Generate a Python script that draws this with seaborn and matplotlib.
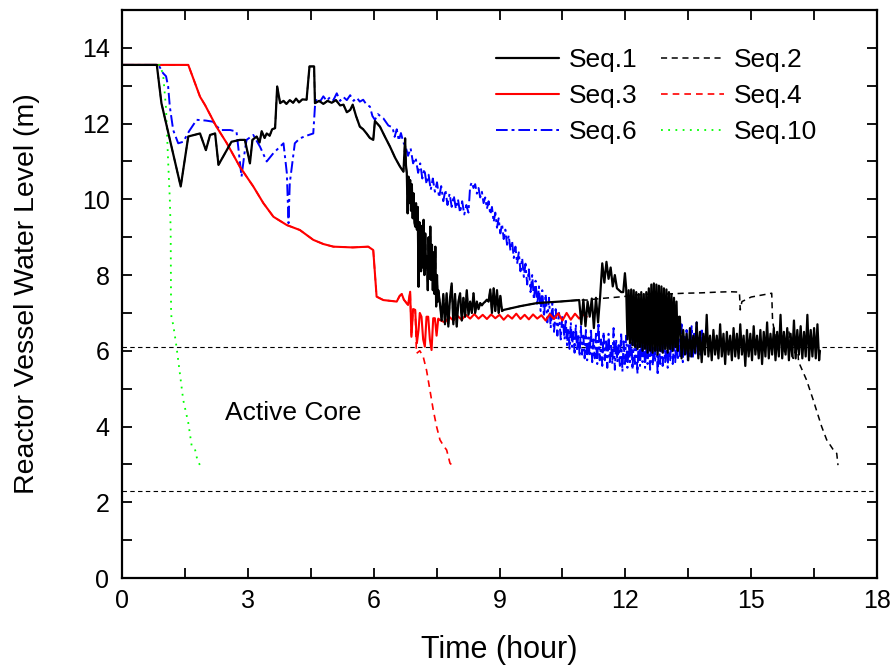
import numpy as np
import pandas as pd
import matplotlib
matplotlib.use("Agg")
import matplotlib.pyplot as plt
import seaborn as sns

# ---------------- data ----------------
# Seq.10 (green dotted)
s10_t = [0, 0.90, 0.98, 1.05, 1.10, 1.14, 1.16, 1.17, 1.18, 1.22, 1.30, 1.38, 1.46, 1.52, 1.58, 1.66, 1.74, 1.80, 1.86]
s10_y = [13.55, 13.55, 13.3, 12.4, 11.0, 10.0, 9.2, 7.1, 6.85, 6.7, 6.1, 5.4, 4.7, 4.4, 4.1, 3.5, 3.4, 3.1, 2.98]

# Seq.1 (black solid), part A: 0 - 6.77 h
s1a_t = [0, 0.83, 0.94, 1.40, 1.58, 1.86, 2.00, 2.10, 2.22, 2.30, 2.50, 2.61, 2.81, 2.93, 3.05, 3.11,
         3.21, 3.28, 3.33, 3.40, 3.45, 3.52, 3.58, 3.65, 3.70, 3.77, 3.85, 3.92, 4.00, 4.08, 4.15, 4.22,
         4.30, 4.40, 4.47, 4.58, 4.60, 4.70, 4.80, 4.90, 5.00, 5.10, 5.20, 5.28, 5.36, 5.44, 5.50, 5.58,
         5.67, 5.75, 5.83, 5.91, 5.99, 6.03, 6.15, 6.27, 6.39, 6.51, 6.63, 6.71, 6.75, 6.77]
s1a_y = [13.55, 13.55, 12.54, 10.34, 11.66, 11.74, 11.30, 11.70, 11.74, 10.91, 11.30, 11.52, 11.57, 11.57, 10.95, 11.57,
         11.66, 11.50, 11.80, 11.62, 11.74, 11.68, 11.85, 11.88, 12.98, 12.54, 12.60, 12.52, 12.62, 12.55, 12.66, 12.56,
         12.64, 12.63, 13.51, 13.51, 12.54, 12.60, 12.52, 12.60, 12.55, 12.62, 12.48, 12.50, 12.30, 12.36, 12.50, 12.20,
         11.92, 11.85, 11.74, 11.62, 11.57, 12.07, 11.92, 11.65, 11.39, 11.10, 10.86, 10.73, 11.61, 10.90]

# Seq.1 part B: dense drop 6.79 - 7.53 h
s1b_t = [6.79, 6.81, 6.83, 6.85, 6.87, 6.89, 6.91, 6.93, 6.95, 6.97,
         6.99, 7.01, 7.03, 7.05, 7.07, 7.09, 7.11, 7.13, 7.15, 7.17,
         7.19, 7.21, 7.23, 7.25, 7.27, 7.29, 7.31, 7.33, 7.35, 7.37,
         7.39, 7.41, 7.43, 7.45, 7.47, 7.49, 7.51, 7.53]
s1b_y = [10.69, 9.63, 10.60, 9.90, 10.51, 9.70, 10.40, 9.50, 10.16, 9.40,
         9.28, 9.90, 9.20, 9.80, 7.69, 9.40, 8.93, 8.10, 9.30, 8.20,
         9.46, 8.00, 9.10, 8.20, 8.49, 7.60, 9.00, 7.90, 9.28, 7.87,
         8.80, 7.60, 8.60, 7.50, 8.75, 7.17, 8.00, 7.30]

# Seq.1 part C: 7.54 - 12.0 h
s1c_t = [7.54, 7.58, 7.62, 7.66, 7.70, 7.74, 7.78, 7.82, 7.86, 7.90, 7.94, 7.98, 8.02, 8.06, 8.10, 8.14,
         8.18, 8.22, 8.26, 8.30, 8.34, 8.38, 8.42, 8.46, 8.50, 8.54, 8.58, 8.62, 8.66, 8.70, 8.74, 8.78,
         8.82, 8.86, 8.90, 8.94, 8.98, 9.02, 9.06, 9.10, 9.50, 9.89, 10.44, 10.90, 10.95, 11.00, 11.05,
         11.10, 11.15, 11.20, 11.25, 11.30, 11.35, 11.40, 11.45, 11.50, 11.55, 11.60, 11.65, 11.70, 11.75,
         11.80, 11.85, 11.90, 11.95, 11.99]
s1c_y = [7.60, 7.26, 6.80, 7.50, 6.70, 7.52, 6.64, 7.40, 7.78, 6.70, 7.50, 6.64, 7.30, 7.52, 6.80, 7.40,
         6.90, 7.60, 6.95, 7.30, 7.00, 7.52, 7.00, 7.30, 7.10, 7.26, 7.20, 7.26, 7.30, 7.35, 7.30, 7.62,
         7.00, 7.65, 7.05, 7.60, 7.00, 7.45, 7.05, 7.08, 7.18, 7.26, 7.30, 7.34, 6.70, 7.35, 6.65,
         7.30, 6.90, 7.38, 6.60, 7.40, 6.75, 7.45, 8.31, 7.80, 8.35, 7.90, 8.20, 7.70, 8.00,
         7.65, 7.60, 7.55, 7.55, 8.05]

# Seq.1 part D: dense oscillation block 12.0 - 13.3 h
s1d_t = [12.02, 12.05, 12.08, 12.11, 12.14, 12.17, 12.20, 12.23, 12.26, 12.29, 12.32, 12.35, 12.38, 12.41,
         12.44, 12.47, 12.50, 12.53, 12.56, 12.59, 12.62, 12.65, 12.68, 12.71, 12.74, 12.77, 12.80, 12.83,
         12.86, 12.89, 12.92, 12.95, 12.98, 13.01, 13.04, 13.07, 13.10, 13.13, 13.16, 13.19, 13.22, 13.25, 13.28]
s1d_y = [7.65, 6.30, 7.60, 6.20, 7.62, 6.15, 7.60, 6.10, 7.55, 6.05, 7.50, 6.10, 7.55, 6.00,
         7.50, 6.05, 7.55, 5.95, 7.65, 6.00, 7.75, 5.95, 7.78, 6.00, 7.75, 5.90, 7.72, 6.00,
         7.70, 5.95, 7.65, 6.05, 7.62, 5.95, 7.55, 6.05, 7.50, 6.00, 7.40, 6.10, 7.30, 6.00, 6.90]

# Seq.1 part E: oscillation 13.3 - 16.64 h
s1e_t = [13.30, 13.34, 13.38, 13.42, 13.46, 13.50, 13.54, 13.58, 13.62, 13.66,
         13.70, 13.74, 13.78, 13.82, 13.86, 13.90, 13.94, 13.98, 14.02, 14.06,
         14.10, 14.14, 14.18, 14.22, 14.26, 14.30, 14.34, 14.38, 14.42, 14.46,
         14.50, 14.54, 14.58, 14.62, 14.66, 14.70, 14.74, 14.78, 14.82, 14.86,
         14.90, 14.94, 14.98, 15.02, 15.06, 15.10, 15.14, 15.18, 15.22, 15.26,
         15.30, 15.34, 15.38, 15.42, 15.46, 15.50, 15.54, 15.58, 15.62, 15.66,
         15.70, 15.74, 15.78, 15.82, 15.86, 15.90, 15.94, 15.98, 16.02, 16.06,
         16.10, 16.14, 16.18, 16.22, 16.26, 16.30, 16.34, 16.38, 16.42, 16.46,
         16.50, 16.54, 16.58, 16.62, 16.64]
s1e_y = [6.90, 5.80, 6.55, 5.90, 6.45, 5.75, 6.60, 5.85, 6.40, 5.95,
         6.75, 5.80, 6.50, 5.70, 6.45, 5.90, 6.95, 5.85, 6.40, 5.75,
         6.55, 5.90, 6.40, 5.80, 6.70, 5.85, 6.45, 5.65, 6.50, 5.90,
         6.40, 5.75, 6.60, 5.85, 6.45, 5.80, 6.70, 5.90, 6.40, 5.60,
         6.55, 5.85, 6.45, 5.75, 6.65, 5.90, 6.40, 5.80, 6.55, 5.65,
         6.50, 5.85, 6.75, 5.80, 6.45, 5.90, 6.60, 5.75, 6.50, 5.85,
         6.95, 5.80, 6.50, 5.90, 6.60, 5.75, 6.45, 5.85, 6.80, 5.80,
         6.55, 5.90, 6.65, 5.80, 6.50, 5.85, 6.95, 5.75, 6.55, 5.85,
         6.60, 5.80, 6.70, 5.75, 6.00]

# Seq.2 (black dashed): shares Seq.1 up to 10.9 h, then its own tail
s2_tail_t = [11.08, 11.40, 11.95, 12.20, 12.60, 13.00, 13.40, 13.80, 14.20, 14.50, 14.72, 14.74, 14.78,
             15.00, 15.30, 15.49, 15.51, 15.60, 15.70, 15.80, 15.90, 16.00, 16.10, 16.13, 16.32, 16.48,
             16.68, 16.80, 16.95, 17.04, 17.07]
s2_tail_y = [7.34, 7.38, 7.43, 7.47, 7.50, 7.50, 7.52, 7.53, 7.55, 7.56, 7.55, 7.08, 7.30,
             7.42, 7.48, 7.52, 6.80, 6.20, 6.60, 5.90, 6.50, 5.80, 6.20, 5.71, 5.23, 4.70,
             4.00, 3.65, 3.40, 3.29, 2.98]

# Seq.3 (red solid)
s3_t = [0, 1.58, 1.86, 1.98, 2.25, 2.50, 2.81, 3.13, 3.37, 3.61, 3.93, 4.24, 4.56, 4.80, 5.04, 5.50, 5.87,
        5.99, 6.07, 6.23, 6.55, 6.62, 6.67, 6.72, 6.82, 6.87, 6.90, 6.94, 6.99, 7.03, 7.07, 7.10, 7.14,
        7.18, 7.22, 7.26, 7.30, 7.34, 7.38, 7.42, 7.46, 7.50, 7.54, 7.58, 7.70, 7.80, 7.90, 8.00, 8.10,
        8.20, 8.30, 8.40, 8.50, 8.60, 8.70, 8.80, 8.90, 9.00, 9.10, 9.20, 9.30, 9.40, 9.50, 9.60, 9.70,
        9.80, 9.90, 10.00, 10.10, 10.20, 10.30, 10.40, 10.50, 10.60, 10.70, 10.80, 10.90, 11.00, 11.08]
s3_y = [13.55, 13.55, 12.71, 12.49, 11.92, 11.48, 10.86, 10.34, 9.90, 9.54, 9.32, 9.19, 8.93, 8.82, 8.75, 8.73, 8.75,
        8.66, 7.43, 7.34, 7.30, 7.45, 7.50, 7.35, 7.21, 7.56, 6.37, 7.10, 7.08, 6.20, 6.55, 7.00, 6.90,
        6.30, 6.11, 6.90, 6.90, 6.30, 6.02, 6.86, 6.86, 6.40, 6.85, 6.81, 6.75, 6.90, 6.80, 6.92, 6.82,
        6.95, 6.85, 6.97, 6.85, 6.95, 6.84, 6.96, 6.86, 6.95, 6.82, 6.94, 6.85, 6.98, 6.84, 6.95, 6.83,
        6.96, 6.85, 6.94, 6.80, 6.97, 6.84, 6.99, 6.80, 7.00, 6.82, 6.98, 6.85, 6.95, 6.90]

# Seq.4 (red dashed): shares Seq.3 up to 6.99 h, then drops
s4_tail_t = [7.02, 7.10, 7.18, 7.26, 7.34, 7.42, 7.50, 7.58, 7.66, 7.74, 7.82, 7.87]
s4_tail_y = [5.93, 6.00, 5.85, 5.49, 4.97, 4.44, 4.00, 3.65, 3.50, 3.38, 3.03, 2.98]

# Seq.6 (blue dash-dot)
s6a_t = [0, 0.87, 0.98, 1.05, 1.10, 1.14, 1.22, 1.34, 1.46, 1.60, 1.78, 2.00, 2.17, 2.34, 2.58, 2.73,
         2.85, 2.93, 2.97, 3.13, 3.29, 3.45, 3.61, 3.85, 3.93, 3.97, 4.00, 4.12, 4.24, 4.40, 4.56, 4.60,
         4.64, 4.72, 4.80, 4.88, 4.96, 5.04, 5.12, 5.20, 5.28, 5.36, 5.44, 5.52, 5.60, 5.67, 5.75, 5.83,
         5.91, 5.97, 6.03, 6.10, 6.23, 6.35]
s6a_y = [13.55, 13.55, 13.33, 13.25, 12.98, 12.45, 11.83, 11.48, 11.52, 11.80, 12.10, 12.08, 12.05, 11.83, 11.83, 11.79,
         10.60, 11.30, 11.57, 11.70, 11.39, 11.00, 11.22, 11.48, 10.69, 9.37, 10.43, 11.48, 11.61, 11.68, 11.74, 12.45,
         12.67, 12.58, 12.72, 12.60, 12.70, 12.62, 12.80, 12.60, 12.70, 12.62, 12.75, 12.60, 12.68, 12.58, 12.63, 12.50,
         12.45, 12.20, 12.10, 12.25, 12.14, 11.95]
s6b_t = [6.45, 6.50, 6.55, 6.60, 6.65, 6.71, 6.76, 6.82, 6.88, 6.94, 7.00, 7.06, 7.11, 7.16, 7.21, 7.26,
         7.31, 7.36, 7.41, 7.46, 7.51, 7.56, 7.61, 7.66, 7.71, 7.76, 7.81, 7.86, 7.91, 7.96, 8.01, 8.06,
         8.11, 8.16, 8.21, 8.26, 8.30, 8.34, 8.38, 8.42, 8.46, 8.50, 8.54, 8.58, 8.62, 8.66, 8.70, 8.74,
         8.78, 8.82, 8.86, 8.90, 8.94, 8.98, 9.02, 9.06, 9.10, 9.14, 9.18, 9.22, 9.26, 9.30, 9.34, 9.38,
         9.42, 9.46, 9.50, 9.54, 9.58, 9.62, 9.66, 9.70, 9.74, 9.78, 9.82, 9.86, 9.90, 9.94, 9.98, 10.02,
         10.06, 10.10, 10.14, 10.18, 10.22, 10.26, 10.30, 10.34, 10.38, 10.42, 10.46, 10.50]
s6b_y = [11.90, 11.65, 11.85, 11.55, 11.75, 11.50, 11.40, 11.15, 11.35, 10.95, 11.10, 10.70, 10.95, 10.55, 10.80, 10.40,
         10.65, 10.25, 10.55, 10.20, 10.45, 10.05, 10.35, 9.95, 10.25, 9.85, 10.15, 9.80, 10.10, 9.75, 10.00, 9.65,
         9.95, 9.60, 9.85, 9.65, 10.34, 10.45, 10.30, 10.40, 10.15, 10.30, 10.05, 10.20, 9.90, 10.05, 9.75, 9.95,
         9.60, 9.80, 9.40, 9.65, 9.25, 9.50, 9.10, 9.35, 8.95, 9.20, 8.80, 9.05, 8.65, 8.90, 8.45, 8.75,
         8.30, 8.60, 8.10, 8.45, 7.95, 8.30, 7.75, 8.15, 7.55, 8.00, 7.35, 7.85, 7.20, 7.70, 7.05, 7.60,
         6.90, 7.50, 6.75, 7.40, 6.60, 7.25, 6.50, 7.10, 6.40, 7.00, 6.30, 6.95]
s6c_t = [10.55, 10.58, 10.61, 10.64, 10.67, 10.70, 10.73, 10.76, 10.79, 10.82,
         10.85, 10.88, 10.91, 10.94, 10.97, 11.00, 11.03, 11.06, 11.09, 11.12,
         11.15, 11.18, 11.21, 11.24, 11.27, 11.30, 11.33, 11.36, 11.39, 11.42,
         11.45, 11.48, 11.51, 11.54, 11.57, 11.60, 11.63, 11.66, 11.69, 11.72,
         11.75, 11.78, 11.81, 11.84, 11.87, 11.90, 11.93, 11.96, 11.99, 12.02,
         12.05, 12.08, 12.11, 12.14, 12.17, 12.20, 12.23, 12.26, 12.29, 12.32,
         12.35, 12.38, 12.41, 12.44, 12.47, 12.50, 12.53, 12.56, 12.59, 12.62,
         12.65, 12.68, 12.71, 12.74, 12.77, 12.80, 12.83, 12.86, 12.89, 12.92,
         12.95, 12.98, 13.01, 13.04, 13.07, 13.10, 13.13, 13.16, 13.19, 13.22,
         13.25, 13.28, 13.31, 13.34, 13.37, 13.40, 13.43, 13.46, 13.49, 13.52,
         13.55, 13.58, 13.61, 13.64, 13.67, 13.70, 13.73, 13.76, 13.79, 13.82,
         13.85]
s6c_y = [6.30, 6.85, 6.15, 6.60, 6.05, 6.75, 6.10, 6.50, 5.95, 6.70,
         6.00, 6.45, 5.85, 6.65, 5.90, 6.40, 5.80, 6.55, 5.75, 6.35,
         5.85, 6.60, 5.70, 6.30, 5.80, 6.45, 5.65, 6.75, 5.75, 6.30,
         5.60, 6.50, 5.75, 6.25, 5.55, 6.45, 5.70, 6.20, 5.65, 6.60,
         5.50, 6.30, 5.70, 6.15, 5.60, 6.50, 5.45, 6.25, 5.65, 6.40,
         5.55, 6.20, 5.70, 6.55, 5.50, 6.30, 5.65, 6.15, 5.40, 6.45,
         5.60, 6.25, 5.70, 6.50, 5.55, 6.20, 5.65, 6.35, 5.50, 6.60,
         5.60, 6.15, 5.70, 6.40, 5.35, 6.25, 5.65, 6.50, 5.60, 6.20,
         5.70, 6.45, 5.55, 6.30, 5.75, 6.60, 5.65, 6.25, 5.70, 6.50,
         5.75, 6.35, 5.80, 6.70, 5.70, 6.40, 5.85, 6.55, 5.75, 6.30,
         5.85, 6.65, 5.80, 6.45, 5.90, 6.75, 5.85, 6.40, 5.90, 6.60,
         6.00]

# reference levels and annotation
core_levels = [6.1, 2.3]
core_label = "Active Core"
series_names = ["Seq.1", "Seq.2", "Seq.3", "Seq.4", "Seq.6", "Seq.10"]
x_ticks = [0, 3, 6, 9, 12, 15, 18]
y_ticks = [0, 2, 4, 6, 8, 10, 12, 14]

# ---------------- assemble ----------------
s1_t = s1a_t + s1b_t + s1c_t + s1d_t + s1e_t
s1_y = s1a_y + s1b_y + s1c_y + s1d_y + s1e_y
k2 = sum(1 for t in s1_t if t <= 10.9)
s2_t = s1_t[:k2] + s2_tail_t
s2_y = s1_y[:k2] + s2_tail_y
k4 = sum(1 for t in s3_t if t <= 6.99)
s4_t = s3_t[:k4] + s4_tail_t
s4_y = s3_y[:k4] + s4_tail_y
s6_t = s6a_t + s6b_t + s6c_t
s6_y = s6a_y + s6b_y + s6c_y

series = {
    "Seq.1": (s1_t, s1_y),
    "Seq.2": (s2_t, s2_y),
    "Seq.3": (s3_t, s3_y),
    "Seq.4": (s4_t, s4_y),
    "Seq.6": (s6_t, s6_y),
    "Seq.10": (s10_t, s10_y),
}
styles = {
    "Seq.1": dict(color="black", lw=1.6, linestyle="-"),
    "Seq.2": dict(color="black", lw=1.1, linestyle=(0, (4, 3))),
    "Seq.3": dict(color="#ff0000", lw=1.5, linestyle="-"),
    "Seq.4": dict(color="#ff0000", lw=1.2, linestyle=(0, (4, 3))),
    "Seq.6": dict(color="#0000ff", lw=1.4, linestyle=(0, (6, 2, 1.5, 2))),
    "Seq.10": dict(color="#00ff00", lw=1.3, linestyle=(0, (1, 3))),
}

# ---------------- plot ----------------
sns.set_style("ticks")
plt.rcParams["font.family"] = ["Liberation Sans", "DejaVu Sans"]
for key in ["text.color", "axes.labelcolor", "xtick.color", "ytick.color", "axes.edgecolor"]:
    plt.rcParams[key] = "black"

fig = plt.figure(figsize=(8.92, 6.68), dpi=100)
ax = fig.add_axes([122 / 892, 1 - 578 / 668, (877 - 122) / 892, (578 - 10) / 668])

draw_order = ["Seq.6", "Seq.3", "Seq.4", "Seq.10", "Seq.2", "Seq.1"]
for name in draw_order:
    t, y = series[name]
    df = pd.DataFrame({"t": t, "y": y})
    sns.lineplot(data=df, x="t", y="y", ax=ax, sort=False, estimator=None,
                 label=name, **styles[name])

for lvl in core_levels:
    ax.axhline(lvl, color="black", lw=0.8, linestyle=(0, (4, 3)), zorder=1)

ax.text(2.46, 4.36, core_label, fontsize=19, va="center", ha="left")

ax.set_xlim(0, 18)
ax.set_ylim(0, 15)
ax.set_xticks(x_ticks)
ax.set_yticks(y_ticks)
ax.set_xticks(np.arange(0, 18.01, 1.5), minor=True)
ax.set_yticks(np.arange(0, 15.01, 1), minor=True)
ax.tick_params(which="both", direction="in", top=True, right=True, length=7, width=1.3)
ax.tick_params(axis="x", which="major", labelsize=18, pad=8)
ax.tick_params(axis="y", which="major", labelsize=18, pad=9)
for sp in ax.spines.values():
    sp.set_linewidth(1.6)

ax.set_xlabel("Time (hour)", fontsize=22, labelpad=16)
ax.set_ylabel("Reactor Vessel Water Level (m)", fontsize=20.5, labelpad=30)

handles, labels = ax.get_legend_handles_labels()
hmap = dict(zip(labels, handles))
legend_order = ["Seq.1", "Seq.3", "Seq.6", "Seq.2", "Seq.4", "Seq.10"]
ax.legend([hmap[n] for n in legend_order], legend_order, ncol=2, frameon=False,
          loc="upper left", bbox_to_anchor=(496 / 892, 1 - 48 / 668), bbox_transform=fig.transFigure,
          fontsize=19, handlelength=2.4, handletextpad=0.35, columnspacing=0.9,
          labelspacing=0.45, borderpad=0, borderaxespad=0)

fig.savefig("out.png", dpi=100)
